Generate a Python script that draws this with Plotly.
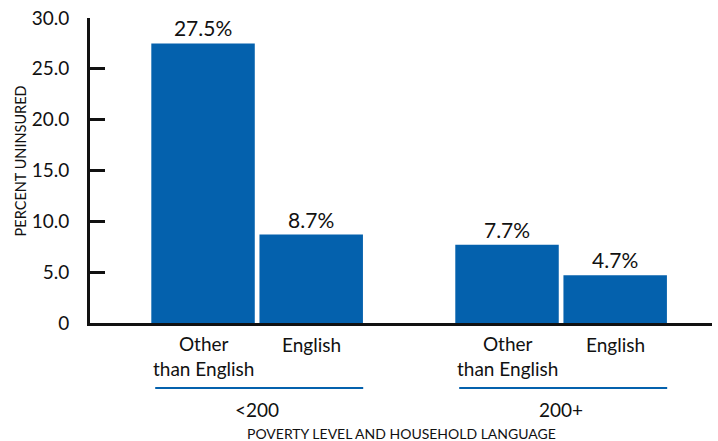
import plotly.graph_objects as go

groups = ["<200", "200+"]
languages = ["Other<br>than English", "English"]
values = [[27.5, 8.7], [7.7, 4.7]]
y_ticks = [0, 5, 10, 15, 20, 25, 30]
y_tick_labels = ["0", "5.0", "10.0", "15.0", "20.0", "25.0", "30.0"]

BLUE = "#0461AD"
FONT = "Lato"
group_spacing = 2.923
bar_step = 1.04

xs, ys, texts = [], [], []
for gi, g in enumerate(groups):
    for li, lang in enumerate(languages):
        xs.append(gi * group_spacing + li * bar_step)
        ys.append(values[gi][li])
        texts.append(f"{values[gi][li]:.1f}%")

fig = go.Figure(go.Bar(
    x=xs, y=ys, width=0.995, marker=dict(color=BLUE, line=dict(width=0)),
    text=texts, textposition="outside", cliponaxis=False,
    textfont=dict(family=FONT, size=21, color="#111"),
))

annotations = []
shapes = []
for gi, g in enumerate(groups):
    for li, lang in enumerate(languages):
        x = gi * group_spacing + li * bar_step
        yv = -0.108 if "<br>" in lang else -0.072
        annotations.append(dict(x=x, y=yv, xref="x", yref="paper", text=lang,
                                showarrow=False, yanchor="middle", align="center",
                                font=dict(family=FONT, size=19, color="#111")))
    x0 = gi * group_spacing - 0.46
    x1 = gi * group_spacing + bar_step + 0.5
    shapes.append(dict(type="line", xref="x", yref="paper", x0=x0, x1=x1, y0=-0.213, y1=-0.213,
                       line=dict(color=BLUE, width=2)))
    annotations.append(dict(x=gi * group_spacing + bar_step / 2, y=-0.283, xref="x", yref="paper",
                            text=g, showarrow=False, yanchor="middle",
                            font=dict(family=FONT, size=19, color="#111")))

annotations.append(dict(x=0.5, y=-0.361, xref="paper", yref="paper",
                        text="POVERTY LEVEL AND HOUSEHOLD LANGUAGE", showarrow=False,
                        yanchor="middle", font=dict(family=FONT, size=14, color="#111")))
annotations.append(dict(x=-0.1125, y=0.53, xref="paper", yref="paper", text="PERCENT UNINSURED",
                        textangle=-90, showarrow=False, xanchor="center",
                        font=dict(family=FONT, size=14.5, color="#111")))

fig.update_layout(
    width=718, height=441,
    margin=dict(l=90, r=6, t=18, b=118),
    plot_bgcolor="white", paper_bgcolor="white",
    showlegend=False,
    annotations=annotations, shapes=shapes,
    xaxis=dict(range=[-1.087, 4.894], showticklabels=False, ticks="", showgrid=False,
               zeroline=False, showline=True, linecolor="#111", linewidth=3),
    yaxis=dict(range=[0, 30], tickvals=y_ticks, ticktext=y_tick_labels, ticks="inside",
               ticklen=15, tickwidth=2.5, tickcolor="#111", showgrid=False, zeroline=False,
               showline=True, linecolor="#111", linewidth=3, ticklabelstandoff=14,
               tickfont=dict(family=FONT, size=19, color="#111")),
)

fig.write_html("out.html", config={"displayModeBar": False},
               post_script="document.body.style.margin='0';")
